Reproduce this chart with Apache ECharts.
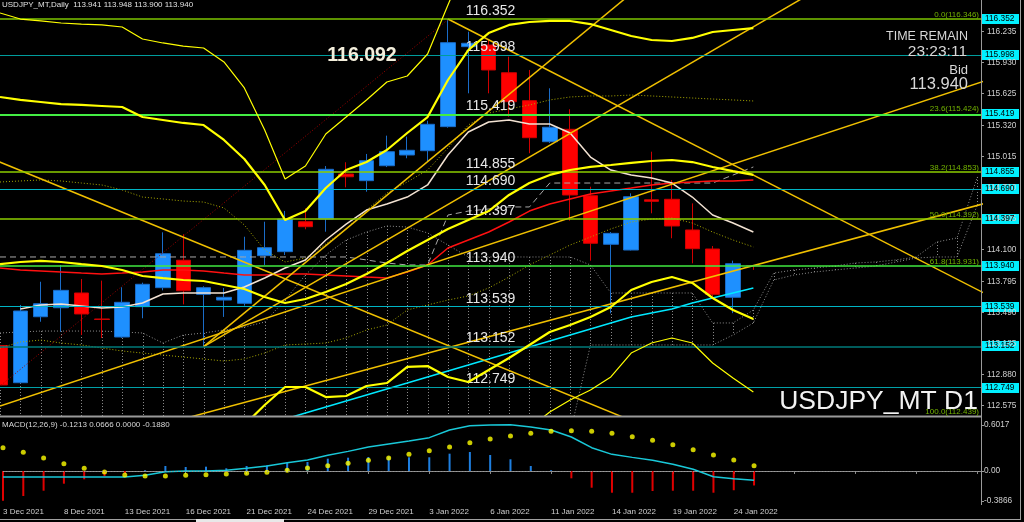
<!DOCTYPE html>
<html><head><meta charset="utf-8">
<script src="https://cdn.jsdelivr.net/npm/echarts@6/dist/echarts.min.js"></script>
<style>html,body{margin:0;padding:0;background:#000;}#c{width:1024px;height:522px;}</style>
</head><body><div id="c"></div>
<script>
const dates = ['3 Dec 2021','6 Dec 2021','7 Dec 2021','8 Dec 2021','9 Dec 2021','10 Dec 2021','13 Dec 2021','14 Dec 2021','15 Dec 2021','16 Dec 2021','17 Dec 2021','20 Dec 2021','21 Dec 2021','22 Dec 2021','23 Dec 2021','24 Dec 2021','27 Dec 2021','28 Dec 2021','29 Dec 2021','30 Dec 2021','31 Dec 2021','3 Jan 2022','4 Jan 2022','5 Jan 2022','6 Jan 2022','7 Jan 2022','10 Jan 2022','11 Jan 2022','12 Jan 2022','13 Jan 2022','14 Jan 2022','17 Jan 2022','18 Jan 2022','19 Jan 2022','20 Jan 2022','21 Jan 2022','24 Jan 2022','25 Jan 2022'];
const openP  = [113.160,112.797,113.442,113.530,113.674,113.420,113.244,113.540,113.726,113.994,113.661,113.605,113.573,114.039,114.078,114.371,114.397,114.837,114.772,114.918,115.023,115.065,115.300,116.082,116.098,115.827,115.554,115.153,115.274,114.625,114.150,114.094,114.585,114.590,114.290,114.104,113.632,113.941];
const highP  = [113.190,113.557,113.784,113.948,113.811,113.795,113.730,113.775,114.267,114.248,113.740,113.723,114.224,114.371,114.476,114.502,114.915,114.952,115.033,115.212,115.202,115.358,116.352,116.228,116.150,115.984,115.854,115.675,115.470,114.713,114.270,114.648,115.055,114.778,114.550,114.133,113.990,113.948];
const lowP   = [112.760,112.790,113.393,113.296,113.264,113.234,113.235,113.427,113.700,113.563,113.149,113.440,113.550,113.948,114.045,114.297,114.273,114.707,114.664,114.905,114.991,114.957,115.290,115.626,115.626,115.397,115.040,115.140,114.381,113.990,113.475,114.090,114.453,114.209,113.964,113.640,113.477,113.900];
const closeP = [112.775,113.498,113.569,113.700,113.469,113.415,113.583,113.759,114.058,113.696,113.726,113.632,114.091,114.117,114.397,114.322,114.883,114.810,114.967,115.055,115.069,115.323,116.121,116.115,115.854,115.544,115.192,115.294,114.632,114.160,114.257,114.615,114.570,114.329,114.107,113.661,113.960,113.940];

const thinUpper = [116.411,116.352,116.333,116.313,116.303,116.294,116.274,116.157,116.118,116.088,116.069,115.932,115.678,115.267,114.788,114.915,115.228,115.394,115.561,115.736,115.795,116.010,116.490,116.950,117.100,117.150,117.150,117.100,117.050,117.000,116.950,116.900,116.880,116.850,116.820,116.800,116.780,116.750];
const thinLower = [null,null,null,null,null,null,null,null,null,null,null,null,null,null,null,null,null,null,null,null,null,null,null,null,null,null,112.354,112.511,112.628,112.726,112.853,113.087,113.185,113.234,113.185,112.990,112.843,112.706];
const thickUpper = [115.590,115.561,115.541,115.521,115.512,115.502,115.492,115.394,115.365,115.336,115.316,115.170,114.984,114.730,114.387,114.475,114.700,114.876,114.954,115.072,115.238,115.394,115.756,116.049,116.215,116.294,116.323,116.333,116.333,116.303,116.245,116.186,116.147,116.137,116.167,116.225,116.245,116.264];
const thickMid = [113.957,113.977,113.987,113.977,113.957,113.938,113.899,113.840,113.820,113.801,113.791,113.752,113.713,113.635,113.576,113.615,113.684,113.762,113.860,113.967,114.085,114.192,114.300,114.387,114.475,114.632,114.749,114.828,114.876,114.906,114.925,114.945,114.964,114.974,114.954,114.906,114.866,114.828];
const thickLower = [null,null,null,null,null,null,null,null,null,null,null,null,112.384,112.579,112.755,112.755,112.657,112.667,112.765,112.794,112.951,112.960,112.853,112.804,112.921,113.039,113.166,113.293,113.361,113.439,113.537,113.703,113.781,113.830,113.772,113.625,113.508,113.420];
const redMA = [113.918,113.899,113.889,113.879,113.869,113.860,113.869,113.879,113.899,113.899,113.889,113.869,113.850,113.850,113.860,113.860,113.850,113.840,113.830,113.821,113.879,113.948,114.114,114.192,114.270,114.368,114.475,114.544,114.593,114.642,114.671,114.700,114.730,114.749,114.759,114.769,114.769,114.779];
const whiteMA = [null,113.518,113.557,113.566,113.547,113.527,113.537,113.576,113.664,113.674,113.674,113.674,113.733,113.821,113.918,113.997,114.192,114.348,114.485,114.544,114.612,114.730,115.023,115.248,115.345,115.365,115.326,115.326,115.238,115.003,114.876,114.827,114.798,114.749,114.612,114.436,114.358,114.270];
const cyanLine = [null,null,null,null,null,null,null,null,null,null,null,null,112.320,112.384,112.442,112.501,112.560,112.618,112.677,112.736,112.794,112.853,112.912,112.970,113.029,113.087,113.146,113.205,113.263,113.322,113.381,113.439,113.479,113.518,113.576,113.625,113.674,113.723];
const oliveUpper = [114.759,114.769,114.779,114.769,114.749,114.730,114.681,114.612,114.593,114.573,114.563,114.505,114.339,114.094,113.977,114.016,114.153,114.300,114.485,114.651,114.759,114.876,115.091,115.316,115.433,115.473,115.512,115.561,115.590,115.600,115.600,115.609,115.600,115.590,115.580,115.570,115.561,115.551];
const oliveLower = [113.136,113.195,113.214,113.185,113.166,113.136,113.107,113.087,113.068,113.048,113.029,113.009,113.029,113.087,113.166,113.175,113.185,113.234,113.312,113.361,113.508,113.557,113.605,113.645,113.723,113.830,113.948,114.045,114.143,114.221,114.300,114.368,114.397,114.407,114.358,114.270,114.192,114.124];
const kijunDashed = [114.026,114.026,114.026,114.026,114.026,114.026,114.026,114.026,114.026,114.026,114.026,114.026,114.026,114.026,114.026,114.026,114.026,114.026,113.997,113.967,113.948,113.948,114.436,114.475,114.495,114.515,114.515,114.749,114.749,114.749,114.749,114.749,114.749,114.749,114.749,114.749,114.827,114.906];
const cloudTop = [113.283,113.293,113.302,113.302,113.302,113.302,113.293,113.283,113.185,113.263,113.283,113.312,113.341,113.390,113.605,113.850,114.045,114.192,114.270,114.329,114.319,114.261,114.143,114.026,114.026,114.026,114.026,114.026,114.026,113.948,113.674,113.674,113.674,113.674,113.674,113.381,113.381,113.508,113.869,113.899,113.918,113.938,113.967,113.977,113.997,114.026,114.172,114.212,114.808];
const cloudBot = [112.300,112.300,112.300,112.300,112.300,112.300,112.300,112.300,112.300,112.300,112.300,112.300,112.300,112.300,112.300,112.300,112.300,112.300,112.300,112.300,112.300,112.300,112.300,112.300,112.300,112.300,112.300,112.300,112.300,113.166,113.166,113.166,113.166,113.166,113.166,113.166,113.263,113.381,113.801,113.850,113.879,113.899,113.918,113.938,113.977,114.016,114.026,114.026,114.534];

const trendD1 = [[22,116.352],[50,113.504]];
const trendD2 = [[-1,115.035],[32,112.346]];
const trendL1 = [[0,112.569],[50,115.854]];
const trendL2 = [[0,111.962],[50,114.637]];
const trendA1 = [[10,113.149],[32,116.766]];
const trendA2 = [[10,113.149],[40,116.623]];
const fibDiag = [[-2,112.439],[22,116.346]];

const levelValues = [116.352,115.998,115.419,114.855,114.690,114.397,113.940,113.539,113.152,112.749];
const fibPercents = ['0.0','23.6','38.2','50.0','61.8','100.0'];
const fibValues = [116.346,115.424,114.853,114.392,113.931,112.439];
const priceTicks = [116.235,115.930,115.625,115.320,115.015,114.710,114.405,114.100,113.795,113.490,113.185,112.880,112.575];

const macdMain = [-0.078,-0.078,-0.078,-0.078,-0.078,-0.078,-0.078,-0.056,-0.009,0.000,0.000,0.009,0.035,0.065,0.108,0.143,0.204,0.255,0.312,0.351,0.390,0.433,0.532,0.588,0.598,0.6017,0.571,0.532,0.442,0.303,0.216,0.177,0.139,0.087,0.022,-0.074,-0.100,-0.1213];
const macdSignal = [0.303,0.242,0.169,0.095,0.035,-0.013,-0.052,-0.065,-0.065,-0.056,-0.048,-0.039,-0.030,-0.017,0.009,0.039,0.069,0.100,0.139,0.169,0.217,0.264,0.312,0.368,0.416,0.455,0.490,0.515,0.523,0.515,0.490,0.446,0.399,0.342,0.277,0.208,0.143,0.0666];
const macdHist = [-0.3866,-0.325,-0.256,-0.165,-0.108,-0.065,-0.030,0.010,0.065,0.052,0.056,0.035,0.065,0.074,0.108,0.117,0.160,0.173,0.182,0.186,0.178,0.178,0.225,0.247,0.208,0.152,0.065,0.010,-0.095,-0.217,-0.282,-0.282,-0.260,-0.256,-0.256,-0.282,-0.250,-0.188];
const macdTicks = [0.6017, 0.00, -0.3866];
const macdTickText = ['0.6017','0.00','-0.3866'];

const XMAX = 48.18;
const F = '"Liberation Sans", Arial, sans-serif';
const chart = echarts.init(document.getElementById('c'), null, {width:1024, height:522});

function curve(arr, color, width, type, z) {
  return {type:'line', xAxisIndex:0, yAxisIndex:0, data: arr.map((v,i)=>[i,v]), showSymbol:false, symbol:'none',
    silent:true, animation:false, z: z||3, clip:true, connectNulls:false,
    lineStyle:{color:color, width:width, type: type||'solid'}};
}
function seg(pts, color, width, type, z) {
  return {type:'line', xAxisIndex:0, yAxisIndex:0, data: pts, showSymbol:false, symbol:'none',
    silent:true, animation:false, z: z||4, clip:true, lineStyle:{color:color, width:width, type: type||'solid'}};
}

const levelColors = ['#7cc400','#009c9c','#44ee44','#8ccc00','#00b4c4','#8ccc00','#40e840','#00b4c4','#007a7a','#00a0a8'];
const levelWidths = [1.5,1.2,2,1.5,1,1.5,1.5,1,1.5,1];

const option = {
  backgroundColor:'#000000',
  animation:false,
  grid:[{left:0, top:0, width:981, height:416, show:false},{left:0, top:418, width:981, height:87, show:false}],
  xAxis:[
    {type:'value', gridIndex:0, min:0, max:XMAX, show:false},
    {type:'value', gridIndex:1, min:0, max:XMAX, interval:3,
      axisLine:{show:true, lineStyle:{color:'#8a8a8a', width:1}},
      axisTick:{show:true, length:3, lineStyle:{color:'#8a8a8a'}},
      splitLine:{show:false},
      axisLabel:{show:true, showMaxLabel:false, align:'left', margin:3, color:'#cfcfcf', fontSize:8, fontFamily:F,
        formatter:(v)=> (Number.isInteger(v) && dates[v]) ? dates[v] : ''}}
  ],
  yAxis:[
    {type:'value', gridIndex:0, min:112.4716, max:116.538, show:false},
    {type:'value', gridIndex:1, min:-0.4416, max:0.6883, show:false}
  ],
  series:[
    {type:'custom', xAxisIndex:0, yAxisIndex:0, z:1, silent:true, animation:false,
      data: cloudTop.map((t,i)=>[i,t,cloudBot[i]]), encode:{x:0, y:[1,2]},
      renderItem:(params, api)=>{
        const x = api.value(0);
        const p1 = api.coord([x, api.value(1)]); const p2 = api.coord([x, api.value(2)]);
        const cs = params.coordSys;
        const y1 = Math.max(cs.y, Math.min(p1[1], p2[1]));
        const y2 = Math.min(cs.y + cs.height, Math.max(p1[1], p2[1]));
        const px = Math.round(p1[0]) + 0.5;
        if (px < cs.x || px > cs.x + cs.width || y2 <= y1) return null;
        return {type:'line', shape:{x1:px, y1:y1, x2:px, y2:y2}, style:{stroke:'#8c8c8c', lineWidth:1, lineDash:[1,2]}};
      }},
    curve(cloudTop, '#8c8c8c', 1, [1,2], 1),
    curve(cloudBot, '#8c8c8c', 1, [1,2], 1),
    {type:'candlestick', xAxisIndex:0, yAxisIndex:0, z:2, silent:true, animation:false, barWidth:15, clip:true,
      data: dates.map((d,i)=>[i, openP[i], closeP[i], lowP[i], highP[i]]), encode:{x:0, y:[1,2,3,4]},
      itemStyle:{color:'#1e90ff', color0:'#ff0000', borderColor:'#1a6cc8', borderColor0:'#d00000', borderWidth:1},
      markLine:{symbol:['none','none'], silent:true, animation:false,
        data: levelValues.map((v,i)=>({yAxis:v, lineStyle:{color:levelColors[i], width:levelWidths[i], type:'solid'},
          label:{show:true, position:'insideMiddleTop', distance:1, formatter: v.toFixed(3), color:'#e8e8e8', fontSize:14, fontFamily:F}}))}},
    seg(fibDiag, '#a00000', 1, [1,2], 3),
    curve(oliveUpper, '#a8a800', 1, [1,2], 3),
    curve(oliveLower, '#a8a800', 1, [1,2], 3),
    curve(kijunDashed, '#a8a8a8', 1, [6,4], 3),
    curve(redMA, '#ff1010', 1.5, 'solid', 4),
    curve(whiteMA, '#f2e2d2', 1.5, 'solid', 4),
    curve(cyanLine, '#00e8ff', 1.5, 'solid', 4),
    seg(trendD1, '#f0c000', 1.5),
    seg(trendD2, '#f0c000', 1.5),
    seg(trendL1, '#f0c000', 1.5),
    seg(trendL2, '#f0c000', 1.5),
    seg(trendA1, '#f0c000', 1.5),
    seg(trendA2, '#f0c000', 1.5),
    curve(thinUpper, '#ffff00', 1.2, 'solid', 5),
    curve(thinLower, '#ffff00', 1.2, 'solid', 5),
    curve(thickUpper, '#ffff00', 2.2, 'solid', 5),
    curve(thickMid, '#ffff00', 2.2, 'solid', 5),
    curve(thickLower, '#ffff00', 2.2, 'solid', 5),
    {type:'bar', xAxisIndex:1, yAxisIndex:1, barWidth:2, silent:true, animation:false, z:2,
      data: macdHist.map((v,i)=>[i,v]),
      itemStyle:{color:(p)=> p.value[1] >= 0 ? '#1e7fe0' : '#e00000'},
      markLine:{symbol:['none','none'], silent:true, animation:false, label:{show:false},
        data:[{yAxis:0, lineStyle:{color:'#9a9a9a', width:1, type:[1,2]}}]}},
    {type:'line', xAxisIndex:1, yAxisIndex:1, data: macdMain.map((v,i)=>[i,v]), showSymbol:false, symbol:'none',
      silent:true, animation:false, z:3, lineStyle:{color:'#19c8d8', width:1.5}},
    {type:'scatter', xAxisIndex:1, yAxisIndex:1, data: macdSignal.map((v,i)=>[i,v]), symbolSize:5,
      silent:true, animation:false, z:4, itemStyle:{color:'#ffff00'}}
  ]
};
chart.setOption(option);

const py = v => chart.convertToPixel({yAxisIndex:0}, v);
const my = v => chart.convertToPixel({yAxisIndex:1}, v);
function txt(x, y, text, size, color, align, weight, fam) {
  return {type:'text', x:x, y:y, silent:true, z:100,
    style:{text:text, fill:color, font:(weight||'normal') + ' ' + size + 'px ' + (fam||F),
      align:align||'left', textAlign:align||'left', verticalAlign:'middle', textVerticalAlign:'middle'}};
}
const g = [];
g.push({type:'line', z:90, silent:true, shape:{x1:0, y1:416.5, x2:981, y2:416.5}, style:{stroke:'#9a9a9a', lineWidth:2}});
g.push({type:'line', z:90, silent:true, shape:{x1:981.5, y1:0, x2:981.5, y2:505}, style:{stroke:'#9a9a9a', lineWidth:1}});
g.push({type:'line', z:90, silent:true, shape:{x1:1020.5, y1:0, x2:1020.5, y2:519}, style:{stroke:'#a0a0a0', lineWidth:1}});
g.push({type:'line', z:90, silent:true, shape:{x1:0, y1:519.5, x2:1021, y2:519.5}, style:{stroke:'#a0a0a0', lineWidth:1}});
g.push({type:'rect', z:91, silent:true, shape:{x:196, y:519, width:88, height:3}, style:{fill:'#e8e8e8'}});
priceTicks.forEach(v=>{
  const y = Math.round(py(v)) + 0.5;
  g.push({type:'line', z:95, silent:true, shape:{x1:981, y1:y, x2:984, y2:y}, style:{stroke:'#9a9a9a', lineWidth:1}});
  g.push(txt(987, y, v.toFixed(3), 8.3, '#cfcfcf', 'left'));
});
levelValues.forEach(v=>{
  const y = py(v);
  g.push({type:'rect', z:98, silent:true, shape:{x:982, y:Math.round(y)-5, width:37, height:10}, style:{fill:'#00f0ff'}});
  g.push(txt(985, Math.round(y), v.toFixed(3), 8.3, '#000000', 'left'));
});
fibValues.forEach((v,i)=>{
  const y = Math.min(py(v) - 5, 412);
  g.push(txt(979, y, fibPercents[i] + '(' + v.toFixed(3) + ')', 8, '#74b400', 'right'));
});
macdTicks.forEach((v,i)=>{
  const y = my(v);
  g.push({type:'line', z:95, silent:true, shape:{x1:981, y1:Math.round(y)+0.5, x2:984, y2:Math.round(y)+0.5}, style:{stroke:'#9a9a9a', lineWidth:1}});
  g.push(txt(984, y, macdTickText[i], 8.3, '#cfcfcf', 'left'));
});
g.push(txt(2, 5, 'USDJPY_MT,Daily  113.941 113.948 113.900 113.940', 8, '#e0e0e0', 'left'));
g.push(txt(2, 425, 'MACD(12,26,9) -0.1213 0.0666 0.0000 -0.1880', 8, '#d8d8d8', 'left'));
g.push(txt(362, 56, '116.092', 19.5, '#f4efdc', 'center', 'bold'));
g.push(txt(968, 37, 'TIME REMAIN', 12.5, '#d8d8d8', 'right'));
g.push(txt(967, 52, '23:23:11', 15.5, '#d8d8d8', 'right'));
g.push(txt(968, 70, 'Bid', 13, '#d8d8d8', 'right'));
g.push(txt(968, 84, '113.940', 16.5, '#d8d8d8', 'right'));
g.push(txt(978, 402, 'USDJPY_MT D1', 26.5, '#f2f2f2', 'right'));
chart.setOption({graphic: g});
</script>
</body></html>
